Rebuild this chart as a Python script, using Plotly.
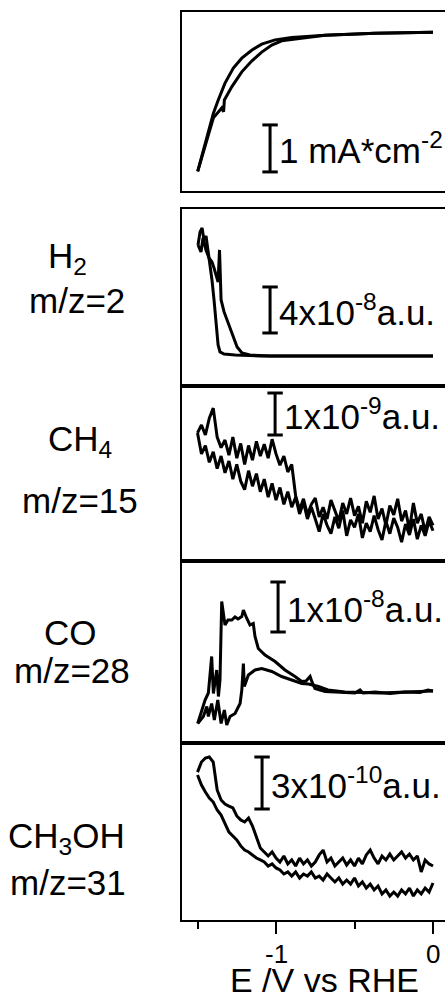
import plotly.graph_objects as go

# ---------------- data ----------------
# x-axis ticks
major_tick_vals = [-1.0, 0.0]
major_tick_text = ["-1", "0"]
minor_tick_vals = [-1.5, -0.5]

# Panel 1: current density (mA cm^-2), two scan branches
cur_a_E = [-1.499, -1.463, -1.431, -1.399, -1.368, -1.325, -1.272, -1.218, -1.155, -1.091,
           -1.006, -0.900, -0.688, -0.369, 0.000]
cur_a_j = [-3.01, -2.55, -2.16, -1.77, -1.49, -1.13, -0.81, -0.60, -0.43, -0.30,
           -0.21, -0.16, -0.11, -0.07, -0.05]
cur_b_E = [-1.499, -1.441, -1.399, -1.346, -1.334, -1.329, -1.304, -1.282, -1.218, -1.155,
           -1.091, -1.027, -0.964, -0.847, -0.688, -0.369, 0.000]
cur_b_j = [-3.01, -2.34, -1.87, -1.66, -1.74, -1.49, -1.35, -1.21, -0.89, -0.66,
           -0.47, -0.32, -0.23, -0.18, -0.11, -0.07, -0.05]

# Panel 2: H2, m/z=2 (units of 1e-8 a.u.)
h2_a_E = [-1.497, -1.484, -1.471, -1.459, -1.446, -1.433, -1.420, -1.408, -1.395, -1.382,
          -1.369, -1.357, -1.331, -1.261, -1.102, -0.847, -0.529, -0.210, 0.000]
h2_a_I = [9.95, 11.08, 11.43, 10.39, 10.74, 9.52, 8.47, 6.91, 5.17, 3.00,
          1.26, 0.65, 0.47, 0.39, 0.30, 0.30, 0.30, 0.30, 0.30]
h2_b_E = [-1.497, -1.478, -1.465, -1.446, -1.427, -1.408, -1.395, -1.382, -1.369, -1.360,
          -1.350, -1.331, -1.312, -1.293, -1.274, -1.248, -1.217, -1.166, -1.038, 0.000]
h2_b_I = [9.95, 9.34, 10.56, 9.52, 8.82, 8.47, 7.95, 7.34, 6.73, 9.52,
          5.17, 4.13, 3.43, 2.56, 1.87, 1.08, 0.56, 0.39, 0.30, 0.30]

# common potential grid for the noisy signals (V vs RHE)
grid_E = [-1.500, -1.475, -1.450, -1.425, -1.400, -1.375, -1.350, -1.325, -1.300, -1.275,
          -1.250, -1.225, -1.200, -1.175, -1.150, -1.125, -1.100, -1.075, -1.050, -1.025,
          -1.000, -0.975, -0.950, -0.925, -0.900, -0.875, -0.850, -0.825, -0.800, -0.775,
          -0.750, -0.725, -0.700, -0.675, -0.650, -0.625, -0.600, -0.575, -0.550, -0.525,
          -0.500, -0.475, -0.450, -0.425, -0.400, -0.375, -0.350, -0.325, -0.300, -0.275,
          -0.250, -0.225, -0.200, -0.175, -0.150, -0.125, -0.100, -0.075, -0.050, -0.025,
          0.000]

# Panel 3: CH4, m/z=15 (units of 1e-9 a.u.)
ch4_upper = [2.55, 2.74, 2.50, 2.90, 3.14, 2.45, 2.20, 2.38, 2.02, 2.45,
             1.95, 2.30, 1.80, 2.25, 1.90, 2.35, 2.00, 2.28, 1.95, 2.40,
             2.05, 1.78, 2.00, 1.62, 1.80, 1.05, 0.72, 0.98, 0.60, 0.85,
             1.00, 0.55, 0.78, 0.50, 0.95, 0.70, 0.45, 0.88, 0.62, 1.00,
             0.58, 0.80, 0.40, 0.92, 0.66, 1.05, 0.50, 0.75, 0.35, 0.82,
             0.60, 0.98, 0.45, 0.70, 0.25, 0.88, 0.40, 0.62, 0.20, 0.55,
             0.35]
ch4_lower = [2.55, 2.05, 2.25, 1.85, 2.10, 1.70, 2.00, 1.60, 1.88, 1.45,
             1.80, 1.40, 1.20, 1.65, 1.28, 1.58, 1.15, 1.45, 1.02, 1.35,
             0.95, 1.25, 0.85, 1.15, 0.78, 1.02, 0.62, 0.90, 0.50, 0.78,
             0.50, 0.20, 0.62, 0.35, 0.15, 0.55, 0.28, 0.70, 0.10, 0.48,
             0.30, 0.62, 0.05, 0.40, 0.20, 0.58, 0.25, 0.00, 0.45, 0.15,
             0.52, 0.30, -0.05, 0.38, 0.12, 0.50, 0.02, 0.35, 0.10, 0.45,
             0.22]

# Panel 4: CO, m/z=28 (units of 1e-8 a.u.)
co_a_E = [-1.499, -1.452, -1.431, -1.410, -1.399, -1.378, -1.367, -1.357, -1.346, -1.325,
          -1.306, -1.282, -1.261, -1.242, -1.218, -1.208, -1.186, -1.166, -1.145, -1.134,
          -1.113, -1.070, -1.006, -0.943, -0.879, -0.836, -0.809, -0.783, -0.771, -0.752,
          -0.688, -0.592, -0.497, -0.465, -0.446, -0.369, -0.274, -0.178, -0.083, -0.032,
          0.000]
co_a_I = [0.13, 0.60, 0.74, 1.47, 0.73, 1.20, 0.67, 1.00, 2.57, 2.10,
          2.20, 2.20, 2.26, 2.22, 2.27, 2.40, 2.23, 2.10, 2.13, 1.87,
          1.63, 1.50, 1.37, 1.20, 1.07, 0.97, 0.98, 1.07, 0.96, 0.83,
          0.77, 0.75, 0.74, 0.80, 0.74, 0.76, 0.73, 0.76, 0.75, 0.80,
          0.78]
co_b_E = [-1.499, -1.463, -1.441, -1.431, -1.410, -1.393, -1.371, -1.350, -1.329, -1.314,
          -1.293, -1.261, -1.229, -1.218, -1.208, -1.202, -1.176, -1.134, -1.091, -1.027,
          -0.964, -0.900, -0.836, -0.794, -0.730, -0.669, -0.561, -0.338, 0.000]
co_b_I = [0.13, 0.27, 0.47, 0.27, 0.53, 0.20, 0.60, 0.13, 0.40, 0.10,
          0.27, 0.33, 0.53, 0.80, 1.33, 0.87, 1.10, 1.20, 1.23, 1.17,
          1.07, 1.00, 0.93, 0.92, 0.87, 0.80, 0.76, 0.74, 0.78]

# Panel 5: CH3OH, m/z=31 (units of 1e-10 a.u.)
meoh_upper = [7.38, 7.96, 8.19, 8.25, 7.96, 6.35, 5.77, 5.54, 5.42, 5.31,
              4.85, 4.62, 4.50, 4.73, 4.27, 3.69, 3.00, 2.77, 2.54, 2.77,
              2.42, 2.19, 2.54, 2.08, 2.31, 1.96, 2.42, 2.08, 2.31, 1.96,
              2.19, 2.60, 2.88, 2.19, 2.42, 1.96, 2.19, 2.42, 2.02, 2.31,
              1.96, 2.42, 2.08, 2.60, 2.88, 2.42, 2.08, 2.54, 2.31, 2.65,
              2.31, 2.54, 2.77, 2.42, 2.65, 2.31, 2.54, 1.62, 2.31, 2.08,
              1.96]
meoh_lower = [7.21, 6.63, 6.23, 5.88, 5.65, 5.19, 4.90, 4.38, 3.92, 3.69,
              3.46, 3.12, 2.88, 2.77, 2.60, 2.42, 2.31, 2.19, 1.96, 2.08,
              1.85, 1.73, 1.50, 1.62, 1.38, 1.62, 1.27, 1.50, 1.38, 1.62,
              1.27, 1.38, 1.15, 1.50, 1.27, 1.04, 1.27, 0.92, 1.15, 0.92,
              1.27, 0.81, 1.04, 0.69, 0.92, 0.58, 0.81, 0.35, 0.58, 0.23,
              0.46, 0.23, 0.58, 0.35, 0.69, 0.23, 0.58, 0.35, 0.69, 0.46,
              0.98]

# scale bars: (x position, bottom, top) in data units of each panel
scale_x = [-1.038, -1.038, -1.006, -0.987, -1.089]
scale_lo = [-3.02, 2.30, 2.50, 1.96, 5.25]
scale_hi = [-2.02, 6.30, 3.50, 2.96, 8.25]
scale_text = ["1 mA*cm<sup>-2</sup>", "4x10<sup>-8</sup>a.u.", "1x10<sup>-9</sup>a.u.",
              "1x10<sup>-8</sup>a.u.", "3x10<sup>-10</sup>a.u."]

# species labels
species_names = ["H<sub>2</sub>", "CH<sub>4</sub>", "CO", "CH<sub>3</sub>OH"]
species_mz = ["m/z=2", "m/z=15", "m/z=28", "m/z=31"]
x_title = "E /V vs RHE"

# ---------------- figure ----------------
W, H = 445, 1003
FONT = "Liberation Sans, Arial, sans-serif"


def py(px):
    return 1 - px / H


panel_px = [(12, 191), (209, 386), (386, 561), (561, 743), (743, 920)]
y_ranges = [[-3.426, 0.383], [-2.31, 13.08], [-0.50, 3.667], [-0.26, 3.38], [-1.154, 9.058]]
x_range = [-1.599, 0.0764]
x_dom = [182 / W, 1.0]

fig = go.Figure()
line = dict(color="black", width=3)

series = [
    (1, cur_a_E, cur_a_j), (1, cur_b_E, cur_b_j),
    (2, h2_a_E, h2_a_I), (2, h2_b_E, h2_b_I),
    (3, grid_E, ch4_upper), (3, grid_E, ch4_lower),
    (4, co_a_E, co_a_I), (4, co_b_E, co_b_I),
    (5, grid_E, meoh_upper), (5, grid_E, meoh_lower),
]
for k, xs, ys in series:
    sfx = "" if k == 1 else str(k)
    fig.add_trace(go.Scatter(x=xs, y=ys, mode="lines", line=line,
                             xaxis="x" + sfx, yaxis="y" + sfx,
                             showlegend=False, hoverinfo="skip"))

# scale bars
for i in range(5):
    sfx = "" if i == 0 else str(i + 1)
    fig.add_trace(go.Scatter(
        x=[scale_x[i], scale_x[i]], y=[scale_lo[i], scale_hi[i]],
        mode="lines+markers", line=dict(color="black", width=3),
        marker=dict(symbol="line-ew", size=11, line=dict(color="black", width=3)),
        xaxis="x" + sfx, yaxis="y" + sfx, showlegend=False, hoverinfo="skip"))
    fig.add_annotation(
        x=scale_x[i] + 0.045, y=(scale_lo[i] + scale_hi[i]) / 2,
        xref="x" + sfx, yref="y" + sfx, text=scale_text[i], showarrow=False,
        xanchor="left", yanchor="middle",
        font=dict(family=FONT, size=35, color="black"))

layout = dict(width=W, height=H, margin=dict(l=0, r=0, t=0, b=0),
              paper_bgcolor="white", plot_bgcolor="white", showlegend=False)

for i in range(5):
    sfx = "" if i == 0 else str(i + 1)
    top, bot = panel_px[i]
    xa = dict(domain=x_dom, range=x_range, anchor="y" + sfx,
              showline=True, mirror=True, linecolor="black", linewidth=2,
              showgrid=False, zeroline=False, showticklabels=False, ticks="")
    if i == 4:
        xa.update(ticks="outside", ticklen=12, tickwidth=2, tickcolor="black",
                  tickvals=major_tick_vals, showticklabels=False,
                  minor=dict(tickvals=minor_tick_vals, ticks="outside", ticklen=7,
                             tickwidth=2, tickcolor="black"))
    else:
        xa.update(matches="x5")
    ya = dict(domain=[py(bot), py(top)], range=y_ranges[i], anchor="x" + sfx,
              showline=True, mirror=False, linecolor="black", linewidth=2,
              showgrid=False, zeroline=False, showticklabels=False, ticks="")
    layout["xaxis" + sfx] = xa
    layout["yaxis" + sfx] = ya

fig.update_layout(**layout)

# x tick labels placed on the x5 data scale
for v, t in zip(major_tick_vals, major_tick_text):
    fig.add_annotation(x=v, y=py(954), xref="x5", yref="paper", text=t,
                       showarrow=False, xanchor="center", yanchor="middle",
                       font=dict(family=FONT, size=26, color="black"))

# species labels (left)
name_px = [258, 441, 632, 838]
mz_px = [300, 500, 670, 882]
name_x = [67, 80, 70, 66]
mz_x = [77, 80, 72, 68]
for i in range(4):
    fig.add_annotation(x=name_x[i] / W, y=py(name_px[i]), xref="paper", yref="paper",
                       text=species_names[i], showarrow=False, xanchor="center", yanchor="middle",
                       font=dict(family=FONT, size=35, color="black"))
    fig.add_annotation(x=mz_x[i] / W, y=py(mz_px[i]), xref="paper", yref="paper",
                       text=species_mz[i], showarrow=False, xanchor="center", yanchor="middle",
                       font=dict(family=FONT, size=35, color="black"))

# x-axis title
fig.add_annotation(x=324 / W, y=py(1001), xref="paper", yref="paper",
                   text=x_title, showarrow=False, xanchor="center", yanchor="bottom",
                   font=dict(family=FONT, size=34, color="black"))

fig.write_html("out.html")
